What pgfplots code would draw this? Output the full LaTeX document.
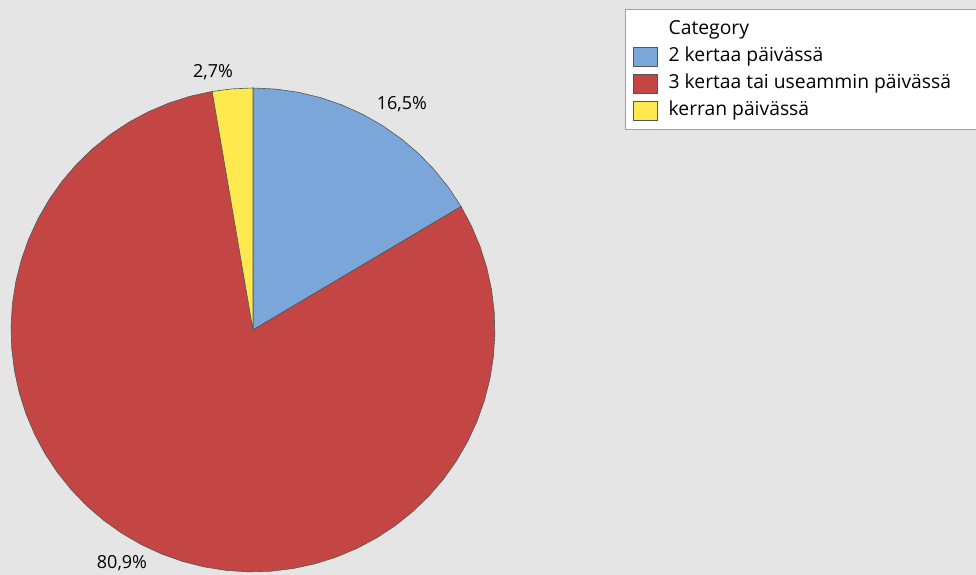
\documentclass[border=0pt]{standalone}
\usepackage{pgfplots}
\pgfplotsset{compat=1.18}
\usepackage{fontspec}
\setmainfont{Open Sans}
\definecolor{bg}{HTML}{E5E5E5}
\definecolor{cA}{HTML}{7BA6DA}
\definecolor{cB}{HTML}{C44644}
\definecolor{cC}{HTML}{FFE94F}
\definecolor{edge}{HTML}{555555}
\definecolor{lbord}{HTML}{A0A0A0}
% values (percent)
\def\vA{16.5}\def\vB{80.9}\def\vC{2.7}
\pgfmathsetmacro\tot{\vA+\vB+\vC}
\pgfmathsetmacro\aA{90}
\pgfmathsetmacro\aB{\aA-\vA/\tot*360}
\pgfmathsetmacro\aC{\aB-\vB/\tot*360}
\pgfmathsetmacro\aD{\aC-\vC/\tot*360}
\newcommand\ls{\rule[-6pt]{0pt}{24pt}}
\begin{document}
\begin{tikzpicture}
\fill[bg] (0,0) rectangle (976pt,575pt);
\begin{axis}[
  at={(0,0)}, anchor=south west,
  scale only axis, width=976pt, height=575pt,
  xmin=0, xmax=976, ymin=0, ymax=575,
  hide axis, clip=false,
  legend style={draw=none, fill=none, at={(0.64857,0.97565)}, anchor=north west,
    inner sep=0pt, row sep=0pt, column sep=11pt,
    nodes={inner sep=0pt},
    font=\fontsize{19.3}{23}\selectfont},
  legend cell align=left,
  legend image code/.code={\path[draw=none, fill=none] (0pt,-14.5pt) rectangle (24pt,12.5pt);
    \draw[#1] (0pt,-13pt) rectangle (24pt,6pt);},
]
\fill[white] (625,566) rectangle (976,446);
\draw[lbord] (976,566) -- (625,566) -- (625,446) -- (976,446);
\addlegendimage{legend image code/.code={\path[draw=none, fill=none] (0pt,-14.5pt) rectangle (24pt,12.5pt);}}
\addlegendentry{\ls Category}
\addplot[fill=cA, draw=edge, line width=0.6pt, domain=\aB:\aA, samples=12, variable=\t]
  ({253+242*cos(\t)},{245+242*sin(\t)}) -- (253,245) -- cycle;
\addlegendentry{\ls 2 kertaa päivässä}
\addplot[fill=cB, draw=edge, line width=0.6pt, domain=\aC:\aB, samples=56, variable=\t]
  ({253+242*cos(\t)},{245+242*sin(\t)}) -- (253,245) -- cycle;
\addlegendentry{\ls 3 kertaa tai useammin päivässä}
\addplot[fill=cC, draw=edge, line width=0.6pt, domain=\aD:\aC, samples=3, variable=\t]
  ({253+242*cos(\t)},{245+242*sin(\t)}) -- (253,245) -- cycle;
\addlegendentry{\ls kerran päivässä}
\node[font=\fontsize{18}{22}\selectfont] at (402,471) {16,5\%};
\node[font=\fontsize{18}{22}\selectfont] at (213,503) {2,7\%};
\node[font=\fontsize{18}{22}\selectfont] at (122,12) {80,9\%};
\end{axis}
\end{tikzpicture}
\end{document}
